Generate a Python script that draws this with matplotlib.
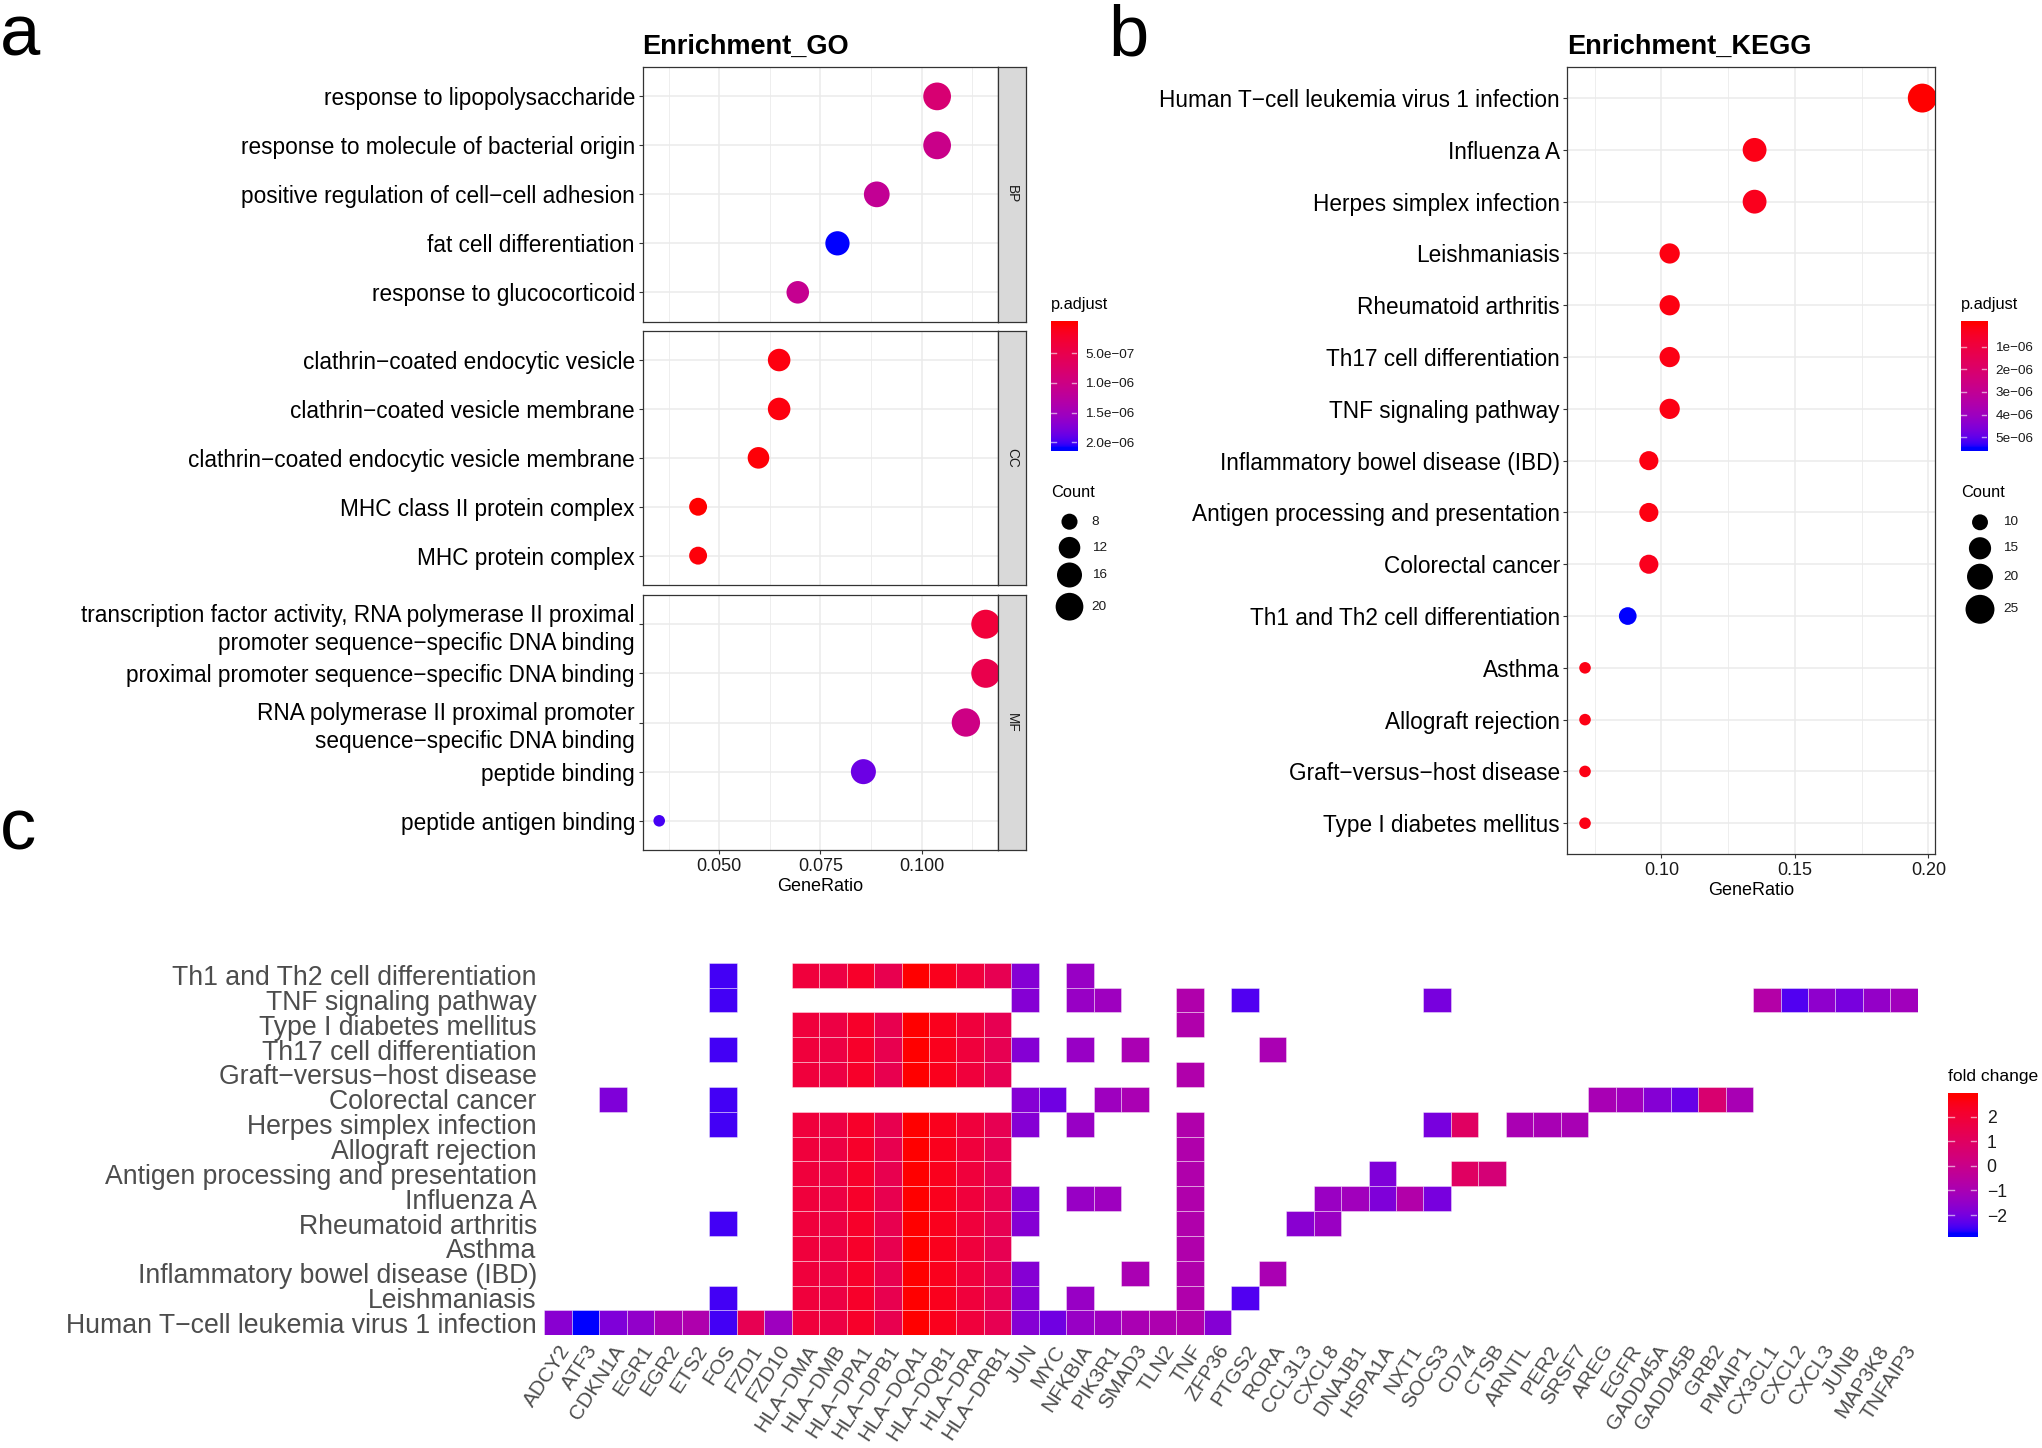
import numpy as np
import matplotlib
matplotlib.use("Agg")
import matplotlib.pyplot as plt
from matplotlib.colors import ListedColormap
from matplotlib.patches import Rectangle
from matplotlib.ticker import FormatStrFormatter

plt.rcParams['font.family'] = ['Liberation Sans', 'DejaVu Sans']

W, H, DPI = 2042, 1448, 100

# ---------------- panel a: GO enrichment ----------------
go_terms = [
    "response to lipopolysaccharide",
    "response to molecule of bacterial origin",
    "positive regulation of cell-cell adhesion",
    "fat cell differentiation",
    "response to glucocorticoid",
    "clathrin-coated endocytic vesicle",
    "clathrin-coated vesicle membrane",
    "clathrin-coated endocytic vesicle membrane",
    "MHC class II protein complex",
    "MHC protein complex",
    "transcription factor activity, RNA polymerase II proximal\npromoter sequence-specific DNA binding",
    "proximal promoter sequence-specific DNA binding",
    "RNA polymerase II proximal promoter\nsequence-specific DNA binding",
    "peptide binding",
    "peptide antigen binding",
]
go_ont = ["BP"] * 5 + ["CC"] * 5 + ["MF"] * 5
go_ratio = [0.1038, 0.1038, 0.0889, 0.0792, 0.0694,
            0.0648, 0.0648, 0.0597, 0.0448, 0.0448,
            0.1158, 0.1158, 0.1109, 0.0856, 0.0352]
go_count = [20, 20, 17, 15, 13,
            13, 13, 12, 9, 9,
            22, 22, 21, 16, 7]
go_padj = [8.4e-7, 1.05e-6, 1.15e-6, 2.09e-6, 1.12e-6,
           6.0e-8, 6.0e-8, 3.5e-8, 6.0e-9, 4.0e-8,
           3.4e-7, 5.0e-7, 1.0e-6, 1.86e-6, 2.0e-6]

# ---------------- panel b: KEGG enrichment ----------------
kegg_terms = [
    "Human T-cell leukemia virus 1 infection", "Influenza A",
    "Herpes simplex infection", "Leishmaniasis", "Rheumatoid arthritis",
    "Th17 cell differentiation", "TNF signaling pathway",
    "Inflammatory bowel disease (IBD)", "Antigen processing and presentation",
    "Colorectal cancer", "Th1 and Th2 cell differentiation", "Asthma",
    "Allograft rejection", "Graft-versus-host disease", "Type I diabetes mellitus",
]
kegg_ratio = [0.1977, 0.1349, 0.1349, 0.1031, 0.1031, 0.1031, 0.1031,
              0.0953, 0.0953, 0.0953, 0.0874, 0.0714, 0.0714, 0.0714, 0.0714]
kegg_count = [25, 17, 17, 13, 13, 13, 13, 12, 12, 12, 11, 9, 9, 9, 9]
kegg_padj = [2e-10, 2.2e-7, 3.3e-7, 1.6e-7, 1.6e-7, 2.0e-7, 2.0e-7,
             1.6e-7, 1.6e-7, 3.3e-7, 5.46e-6, 2.0e-7, 2.0e-7, 2.0e-7, 2.0e-7]

# ---------------- panel c: gene / pathway heatmap ----------------
genes = ["ADCY2", "ATF3", "CDKN1A", "EGR1", "EGR2", "ETS2", "FOS", "FZD1", "FZD10",
         "HLA-DMA", "HLA-DMB", "HLA-DPA1", "HLA-DPB1", "HLA-DQA1", "HLA-DQB1",
         "HLA-DRA", "HLA-DRB1", "JUN", "MYC", "NFKBIA", "PIK3R1", "SMAD3", "TLN2",
         "TNF", "ZFP36", "PTGS2", "RORA", "CCL3L3", "CXCL8", "DNAJB1", "HSPA1A",
         "NXT1", "SOCS3", "CD74", "CTSB", "ARNTL", "PER2", "SRSF7", "AREG", "EGFR",
         "GADD45A", "GADD45B", "GRB2", "PMAIP1", "CX3CL1", "CXCL2", "CXCL3", "JUNB",
         "MAP3K8", "TNFAIP3"]
fold_change = [-1.70, -2.76, -1.87, -1.53, -1.00, -0.85, -2.54, 1.36, -1.26,
               1.86, 1.70, 2.25, 1.42, 2.81, 2.48,
               1.86, 1.36, -1.76, -2.09, -1.42, -1.26, -0.98, -0.90,
               -0.81, -1.76, -2.43, -0.98, -1.70, -1.37, -1.20, -1.87,
               -0.75, -1.98, 1.00, 0.47, -0.98, -1.03, -1.03, -1.03, -1.20,
               -1.76, -2.20, 0.64, -1.03, -0.70, -2.43, -1.59, -1.98,
               -1.48, -1.20]

hla = ["HLA-DMA", "HLA-DMB", "HLA-DPA1", "HLA-DPB1", "HLA-DQA1", "HLA-DQB1", "HLA-DRA", "HLA-DRB1"]
pathways = [
    "Th1 and Th2 cell differentiation", "TNF signaling pathway", "Type I diabetes mellitus",
    "Th17 cell differentiation", "Graft-versus-host disease", "Colorectal cancer",
    "Herpes simplex infection", "Allograft rejection", "Antigen processing and presentation",
    "Influenza A", "Rheumatoid arthritis", "Asthma", "Inflammatory bowel disease (IBD)",
    "Leishmaniasis", "Human T-cell leukemia virus 1 infection",
]
pathway_genes = [
    ["FOS"] + hla + ["JUN", "NFKBIA"],
    ["FOS", "JUN", "NFKBIA", "PIK3R1", "TNF", "PTGS2", "SOCS3", "CX3CL1", "CXCL2",
     "CXCL3", "JUNB", "MAP3K8", "TNFAIP3"],
    hla + ["TNF"],
    ["FOS"] + hla + ["JUN", "NFKBIA", "SMAD3", "RORA"],
    hla + ["TNF"],
    ["CDKN1A", "FOS", "JUN", "MYC", "PIK3R1", "SMAD3", "AREG", "EGFR", "GADD45A",
     "GADD45B", "GRB2", "PMAIP1"],
    ["FOS"] + hla + ["JUN", "NFKBIA", "TNF", "SOCS3", "CD74", "ARNTL", "PER2", "SRSF7"],
    hla + ["TNF"],
    hla + ["TNF", "HSPA1A", "CD74", "CTSB"],
    hla + ["JUN", "NFKBIA", "PIK3R1", "TNF", "CXCL8", "DNAJB1", "HSPA1A", "NXT1", "SOCS3"],
    ["FOS"] + hla + ["JUN", "TNF", "CCL3L3", "CXCL8"],
    hla + ["TNF"],
    hla + ["JUN", "SMAD3", "TNF", "RORA"],
    ["FOS"] + hla + ["JUN", "NFKBIA", "TNF", "PTGS2"],
    ["ADCY2", "ATF3", "CDKN1A", "EGR1", "EGR2", "ETS2", "FOS", "FZD1", "FZD10"] + hla +
    ["JUN", "MYC", "NFKBIA", "PIK3R1", "SMAD3", "TLN2", "TNF", "ZFP36"],
]


def rdash(s):
    # R renders hyphens as minus signs
    return s.replace("-", "\u2212")


# ---- ggplot-like blue -> red gradient interpolated in Lab space ----
M_RGB2XYZ = np.array([[0.4124564, 0.3575761, 0.1804375],
                      [0.2126729, 0.7151522, 0.0721750],
                      [0.0193339, 0.1191920, 0.9503041]])
WHITE = np.array([0.95047, 1.0, 1.08883])


def srgb_to_lab(c):
    c = np.asarray(c, float)
    lin = np.where(c <= 0.04045, c / 12.92, ((c + 0.055) / 1.055) ** 2.4)
    f = (M_RGB2XYZ @ lin) / WHITE
    f = np.where(f > 216 / 24389, np.cbrt(f), (24389 / 27 * f + 16) / 116)
    return np.array([116 * f[1] - 16, 500 * (f[0] - f[1]), 200 * (f[1] - f[2])])


def lab_to_srgb(lab):
    L, a, b = lab[:, 0], lab[:, 1], lab[:, 2]
    fy = (L + 16) / 116
    fx = fy + a / 500
    fz = fy - b / 200

    def finv(f):
        return np.where(f ** 3 > 216 / 24389, f ** 3, (116 * f - 16) / (24389 / 27))

    xyz = np.stack([finv(fx), finv(fy), finv(fz)], -1) * WHITE
    lin = np.clip(xyz @ np.linalg.inv(M_RGB2XYZ).T, 0, 1)
    c = np.where(lin <= 0.0031308, 12.92 * lin, 1.055 * lin ** (1 / 2.4) - 0.055)
    return np.clip(c, 0, 1)


t = np.linspace(0, 1, 256)[:, None]
lab_blue = srgb_to_lab([0, 0, 1])
lab_red = srgb_to_lab([1, 0, 0])
cmap_br = ListedColormap(lab_to_srgb(lab_blue + t * (lab_red - lab_blue)))
cmap_rb = cmap_br.reversed()

fig = plt.figure(figsize=(W / DPI, H / DPI), dpi=DPI, facecolor="white")


def px_box(x0, y0, x1, y1):
    return [x0 / W, 1 - y1 / H, (x1 - x0) / W, (y1 - y0) / H]


def dot_px(count, cmin, cmax):
    tt = (np.asarray(count, float) - cmin) / (cmax - cmin)
    size = 3 + 5 * np.sqrt(tt)
    return 1.22 * (size * 2.845 + 0.95)


def dot_s(count, cmin, cmax):
    return (dot_px(count, cmin, cmax) * 72 / DPI) ** 2


overlay = fig.add_axes([0, 0, 1, 1])
overlay.set_xlim(0, W)
overlay.set_ylim(H, 0)
overlay.axis("off")

BORDER = "#333333"
GRID = "#EBEBEB"


def style_dot_axes(ax, xmajor, xminor, fmt):
    ax.set_xticks(xmajor)
    ax.set_xticks(xminor, minor=True)
    ax.xaxis.set_major_formatter(FormatStrFormatter(fmt))
    ax.grid(which="major", color=GRID, lw=1.1)
    ax.grid(which="minor", axis="x", color=GRID, lw=0.6)
    ax.set_axisbelow(True)
    for sp in ax.spines.values():
        sp.set_color(BORDER)
        sp.set_linewidth(0.9)
    ax.tick_params(which="major", length=3, width=0.8, color=BORDER, pad=2.5)
    ax.tick_params(axis="y", labelsize=16.3, labelcolor="black")
    ax.tick_params(axis="x", labelsize=13, labelcolor="#1a1a1a")
    ax.tick_params(which="minor", length=0)


def draw_bar(ax, values, cmap, ticks, labels, reverse, labelsize, pad):
    vmin, vmax = min(values), max(values)
    rng = vmax - vmin
    lo, hi = vmin - rng * 0.5 / 19, vmax + rng * 0.5 / 19
    grad = np.linspace(lo, hi, 400)
    img = np.clip((grad - vmin) / rng, 0, 1)[:, None]
    ax.imshow(img, cmap=cmap, vmin=0, vmax=1, aspect="auto",
              extent=(0, 1, lo, hi), origin="lower", interpolation="bilinear")
    ax.set_xlim(0, 1)
    ax.set_ylim((hi, lo) if reverse else (lo, hi))
    for v in ticks:
        ax.plot([0, 0.2], [v, v], color="white", alpha=0.6, lw=1)
        ax.plot([0.8, 1], [v, v], color="white", alpha=0.6, lw=1)
    ax.set_xticks([])
    ax.yaxis.tick_right()
    ax.set_yticks(ticks)
    ax.set_yticklabels(labels)
    ax.tick_params(axis="y", length=0, labelsize=labelsize, pad=pad, labelcolor="#1a1a1a")
    for sp in ax.spines.values():
        sp.set_visible(False)


# ---------------- panel a ----------------
GO_X0, GO_X1, STRIP_X1 = 642.6, 998.3, 1025.6
facet_rows = {"BP": (67.0, 321.7), "CC": (330.7, 585.0), "MF": (594.7, 850.3)}
go_min, go_max = min(go_count), max(go_count)
for ont in ["BP", "CC", "MF"]:
    idx = [i for i, o in enumerate(go_ont) if o == ont]
    y0, y1 = facet_rows[ont]
    ax = fig.add_axes(px_box(GO_X0, y0, GO_X1, y1))
    style_dot_axes(ax, [0.05, 0.075, 0.1], [0.0375, 0.0625, 0.0875, 0.1125], "%.3f")
    ypos = np.arange(1, len(idx) + 1)
    ax.scatter([go_ratio[i] for i in idx], ypos,
               s=dot_s([go_count[i] for i in idx], go_min, go_max),
               c=[go_padj[i] for i in idx], cmap=cmap_rb,
               vmin=min(go_padj), vmax=max(go_padj), edgecolors="none", zorder=3)
    ax.set_xlim(0.0311, 0.1189)
    ax.set_ylim(len(idx) + 0.6, 0.4)
    ax.set_yticks(ypos)
    ax.set_yticklabels([rdash(go_terms[i]) for i in idx], linespacing=1.3)
    if ont == "MF":
        ax.set_xlabel("GeneRatio", fontsize=13, labelpad=2)
    else:
        ax.tick_params(axis="x", which="both", length=0, labelbottom=False)
    sax = fig.add_axes(px_box(GO_X1, y0, STRIP_X1, y1))
    sax.set_facecolor("#D9D9D9")
    sax.set_xticks([])
    sax.set_yticks([])
    for sp in sax.spines.values():
        sp.set_color(BORDER)
        sp.set_linewidth(0.9)
    sax.text(0.5, 0.5, ont, rotation=-90, ha="center", va="center",
             fontsize=9.8, color="#1a1a1a", transform=sax.transAxes)

overlay.text(GO_X0, 46.7, "Enrichment_GO", fontsize=19.5, fontweight="bold",
             ha="left", va="center")

bax = fig.add_axes(px_box(1050.7, 320.7, 1077.0, 451.0))
draw_bar(bax, go_padj, cmap_rb, [5e-7, 1e-6, 1.5e-6, 2e-6],
         ["5.0e\u221207", "1.0e\u221206", "1.5e\u221206", "2.0e\u221206"],
         True, 9.7, 5.8)
overlay.text(1050.7, 305, "p.adjust", fontsize=11.8, ha="left", va="center")
overlay.text(1050.7, 492.7, "Count", fontsize=11.8, ha="left", va="center")
go_key_counts = [8, 12, 16, 20]
go_key_y = [521.7, 547.7, 575.0, 606.7]
overlay.scatter([1069.5] * 4, go_key_y, s=dot_s(go_key_counts, go_min, go_max),
                color="black", edgecolors="none")
for c, y in zip(go_key_counts, go_key_y):
    overlay.text(1091.7, y, str(c), fontsize=9.7, ha="left", va="center", color="#1a1a1a")

# ---------------- panel b ----------------
KX0, KX1, KY0, KY1 = 1567.4, 1935.1, 67.0, 854.3
kax = fig.add_axes(px_box(KX0, KY0, KX1, KY1))
style_dot_axes(kax, [0.10, 0.15, 0.20], [0.075, 0.125, 0.175], "%.2f")
ky = np.arange(1, len(kegg_terms) + 1)
k_min, k_max = min(kegg_count), max(kegg_count)
kax.scatter(kegg_ratio, ky, s=dot_s(kegg_count, k_min, k_max), c=kegg_padj,
            cmap=cmap_rb, vmin=min(kegg_padj), vmax=max(kegg_padj),
            edgecolors="none", zorder=3)
kax.set_xlim(0.0648, 0.2025)
kax.set_ylim(len(kegg_terms) + 0.6, 0.4)
kax.set_yticks(ky)
kax.set_yticklabels([rdash(s) for s in kegg_terms])
kax.set_xlabel("GeneRatio", fontsize=13, labelpad=2)
overlay.text(KX0, 46.7, "Enrichment_KEGG", fontsize=19.5, fontweight="bold",
             ha="left", va="center")

kbax = fig.add_axes(px_box(1961.0, 320.7, 1987.3, 451.0))
draw_bar(kbax, kegg_padj, cmap_rb, [1e-6, 2e-6, 3e-6, 4e-6, 5e-6],
         ["%de\u221206" % k for k in range(1, 6)], True, 9.7, 5.8)
overlay.text(1961.0, 305, "p.adjust", fontsize=11.8, ha="left", va="center")
overlay.text(1961.0, 492.7, "Count", fontsize=11.8, ha="left", va="center")
k_key_counts = [10, 15, 20, 25]
k_key_y = [522.3, 548.3, 576.7, 609.3]
overlay.scatter([1980.0] * 4, k_key_y, s=dot_s(k_key_counts, k_min, k_max),
                color="black", edgecolors="none")
for c, y in zip(k_key_counts, k_key_y):
    overlay.text(2003.3, y, str(c), fontsize=9.7, ha="left", va="center", color="#1a1a1a")

# ---------------- panel c ----------------
hax = fig.add_axes(px_box(544.4, 962.7, 1917.9, 1335.3))
fc_min, fc_max = min(fold_change), max(fold_change)
norm = plt.Normalize(fc_min, fc_max)
for i, members in enumerate(pathway_genes):
    for g in members:
        j = genes.index(g)
        hax.add_patch(Rectangle((j, i), 1, 1, facecolor=cmap_br(norm(fold_change[j])),
                                edgecolor=(1, 1, 1, 0.45), lw=0.6))
hax.set_xlim(0, len(genes))
hax.set_ylim(len(pathways), 0)
hax.set_xticks(np.arange(len(genes)) + 0.5)
hax.set_xticklabels([rdash(g) for g in genes], rotation=57, ha="right", va="top",
                    rotation_mode="anchor")
hax.set_yticks(np.arange(len(pathways)) + 0.5)
hax.set_yticklabels([rdash(p) for p in pathways])
hax.tick_params(axis="x", length=0, pad=4.5, labelsize=15, labelcolor="#4D4D4D")
hax.tick_params(axis="y", length=0, pad=5.5, labelsize=19.2, labelcolor="#4D4D4D")
for sp in hax.spines.values():
    sp.set_visible(False)

fbax = fig.add_axes(px_box(1948.0, 1093.3, 1977.0, 1237.3))
draw_bar(fbax, fold_change, cmap_br, [-2, -1, 0, 1, 2],
         ["\u22122", "\u22121", "0", "1", "2"], False, 12.7, 7)
overlay.text(1948.0, 1076.7, "fold change", fontsize=12.6, ha="left", va="center")

# panel letters
overlay.text(0, 55, "a", fontsize=52, ha="left", va="baseline")
overlay.text(1108, 55, "b", fontsize=52, ha="left", va="baseline")
overlay.text(0, 850, "c", fontsize=52, ha="left", va="baseline")

fig.savefig("out.png", dpi=DPI, facecolor="white")
